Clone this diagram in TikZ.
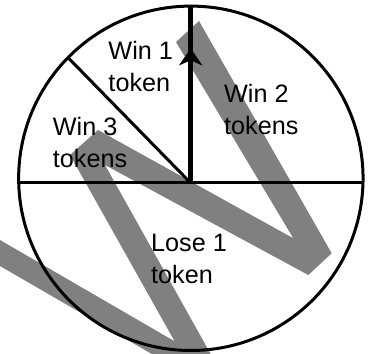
\documentclass[tikz,border=0pt]{standalone}
\usepackage{fontspec}
\setmainfont{Liberation Sans}
\usetikzlibrary{arrows.meta}

\begin{document}
\begin{tikzpicture}[x=1pt,y=1pt,
  rim/.style={line width=3pt},
  divider/.style={line width=3pt},
  pointer/.style={line width=4.5pt},
  wmark/.style={fill=gray},
  lbl/.style={font=\fontsize{25.2}{32}\selectfont,align=left,anchor=base west,inner sep=0pt}]
\useasboundingbox (0,0) rectangle (368,354);
\clip (0,0) rectangle (368,354);
% watermark letter behind the spinner
\fill[wmark] (199,333) -- (331.7,100.7) -- (308.3,79) -- (105,189) -- (214,-6)
  -- (195.6,-25.4) -- (-40,111.2) -- (-40,137.2) -- (174.6,12.7) -- (70,199)
  -- (98,224) -- (293.3,115.7) -- (176,312) -- cycle;
% spinner
\coordinate (ctr) at (190.85,175.7);
\coordinate (hub) at (190.7,171);
\coordinate (rimW) at ([shift={(181.56:172.2)}]ctr);
\coordinate (rimE) at ([shift={(-1.56:172.2)}]ctr);
\coordinate (rimNW) at ([shift={(135.5:172.2)}]ctr);
\coordinate (rimN) at (190.7,347.9);
\coordinate (tip) at (190.7,305.7);
\draw[rim] (ctr) circle[radius=172.2];
\draw[divider] (rimW) -- (rimE);
\draw[divider] (hub) -- (rimNW);
\draw[pointer] (hub) -- (rimN);
\draw[pointer,-{Stealth[length=17pt,width=23pt,inset=5pt]}] (hub) -- (tip);
% labels (base = last line)
\node[lbl] (win1) at (108.3,262) {Win 1\\token};
\node[lbl] (win2) at (224,219) {Win 2\\tokens};
\node[lbl] (win3) at (52.7,186) {Win 3\\tokens};
\node[lbl] (lose1) at (151,70.3) {Lose 1\\token};
\end{tikzpicture}
\end{document}
